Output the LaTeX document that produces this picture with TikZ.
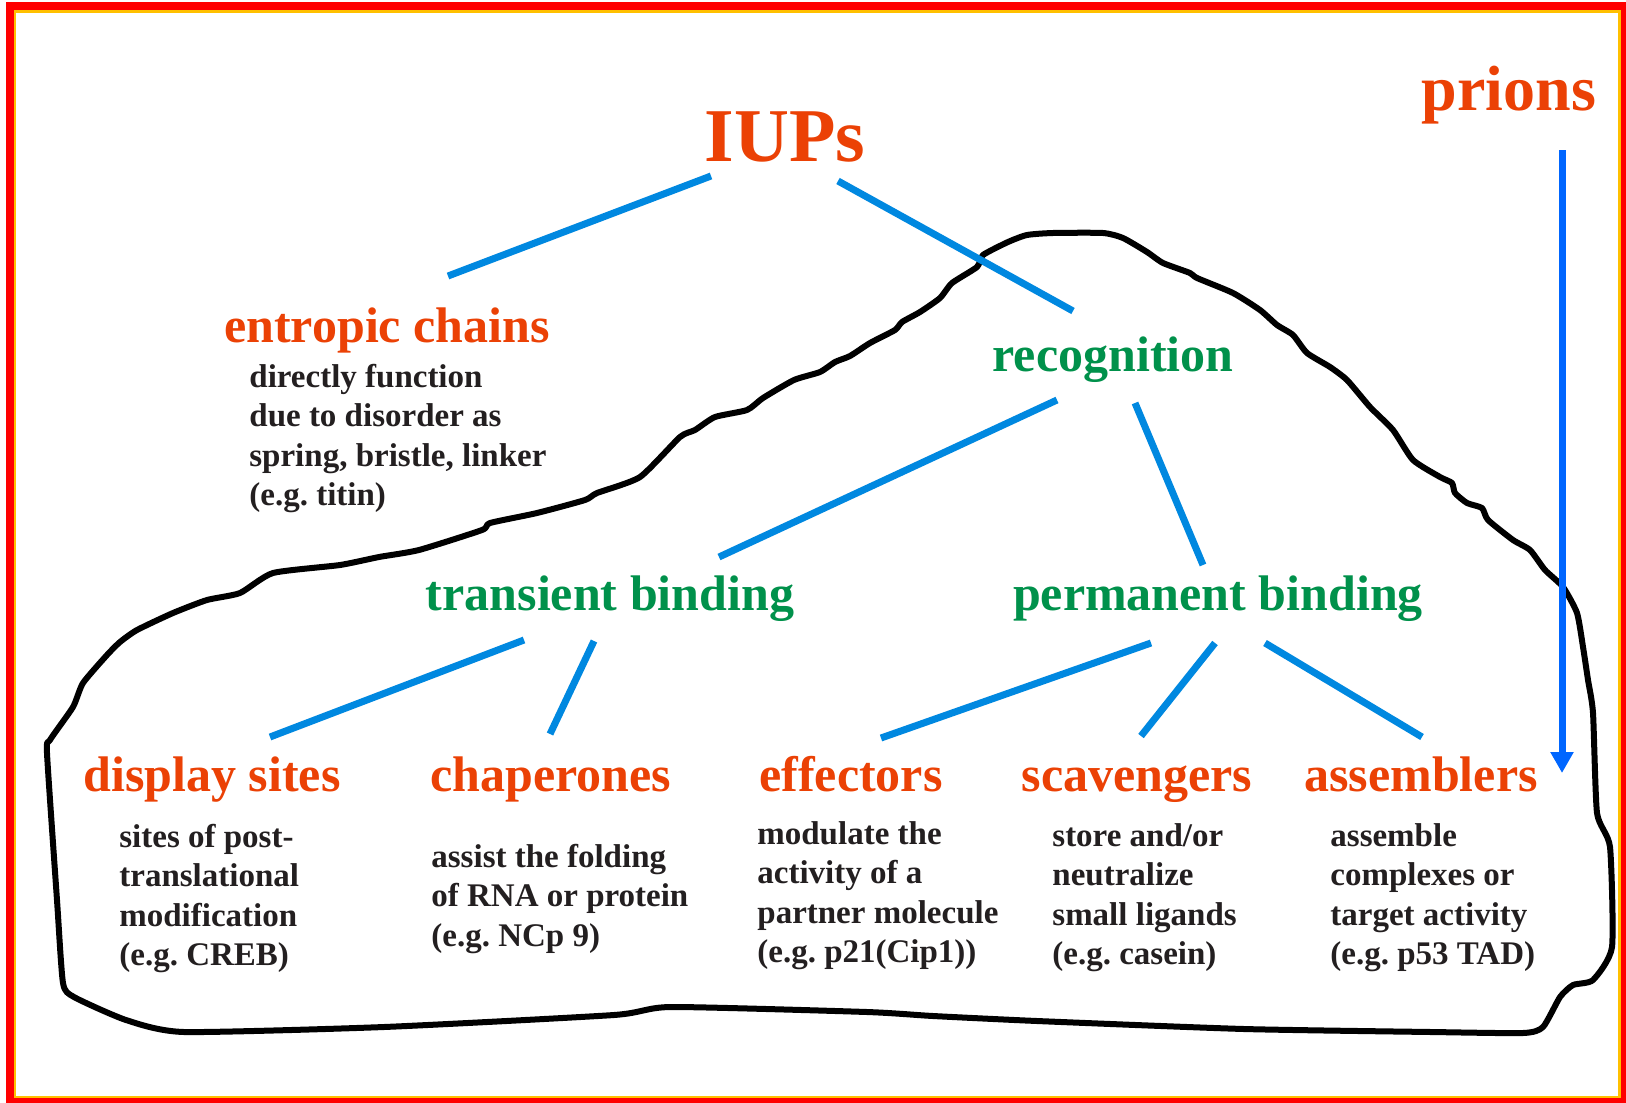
\documentclass[tikz,border=0pt]{standalone}
\usepackage{fontspec}
\setmainfont{Liberation Serif}
\usepackage{tikz}
\usetikzlibrary{calc,arrows.meta}
\definecolor{headred}{RGB}{235,65,5}
\definecolor{branchgreen}{RGB}{0,145,75}
\definecolor{linkblue}{RGB}{0,136,224}
\definecolor{prionblue}{RGB}{0,102,255}
\definecolor{desctext}{RGB}{35,31,32}
\definecolor{frameorange}{RGB}{255,192,0}

\begin{document}
\begin{tikzpicture}[x=0.5pt,y=-0.5pt,
    head/.style={font=\fontsize{25}{30}\selectfont\bfseries, text=headred, inner sep=0pt, anchor=base},
    branch/.style={head, text=branchgreen},
    desc/.style={font=\fontsize{16.5}{19.75}\selectfont\bfseries\frenchspacing, text=desctext,
                 align=left, inner sep=0pt, anchor=base west},
    link/.style={draw=linkblue, line width=3.5pt},
    blob/.style={draw=black, line width=3pt, line join=round}]
        % picture drawn in pixel units of the original, y downwards
        \useasboundingbox (0,0) rectangle (1626,1102);
        \fill[white] (0,0) rectangle (1626,1102);
        \draw[red, line width=4pt] (10,6) rectangle (1625,1102);
        \draw[frameorange, line width=1.25pt] (15,11.5) rectangle (1619.5,1097);

        % outline of the recognition region
        \draw[blob] plot[smooth cycle, tension=0.35] coordinates {
            (47,753) (50,740) (73,707) (83,683) (107,655) (120,642) (137,630)
            (173,613) (207,600) (240,593) (273,573) (340,565) (379,557) (419,550)
            (482,530) (490,523) (537,513) (585,500) (597,493) (640,477) (680,437)
            (695,430) (715,417) (747,410) (763,398) (794,380) (820,372) (835,362)
            (850,356) (870,343) (895,330) (902,322) (920,312) (940,298) (952,283)
            (977,267) (983,255) (1008,242) (1027,235) (1053,233) (1103,233) (1123,238)
            (1147,252) (1163,263) (1190,273) (1197,278) (1233,293) (1260,310) (1277,325)
            (1293,335) (1307,353) (1330,367) (1347,380) (1370,407) (1393,430) (1413,460)
            (1440,477) (1452,483) (1455,493) (1467,503) (1482,508) (1488,520) (1513,540)
            (1530,550) (1545,570) (1563,587) (1577,613) (1583,647) (1588,680) (1593,713)
            (1597,813) (1610,847) (1612,947) (1593,980) (1573,985) (1560,997) (1543,1027)
            (1523,1033) (1431,1032) (1244,1029) (1037,1021) (933,1016) (867,1012) (671,1007)
            (614,1015) (384,1027) (184,1032) (126,1020) (74,997) (63,983) (57,900)};

        % headings
        \node[head, font=\fontsize{38}{45}\selectfont\bfseries] (IUPs) at (785,161) {IUPs};
        \node[head, font=\fontsize{32}{38}\selectfont\bfseries] (prions) at (1509,111) {prions};
        \node[head] (entropic) at (387,342) {entropic chains};
        \node[branch] (recog) at (1113,371) {recognition};
        \node[branch] (transient) at (610,610) {transient binding};
        \node[branch] (permanent) at (1218,610) {permanent binding};
        \node[head] (display) at (212,791) {display sites};
        \node[head] (chaperones) at (551,791) {chaperones};
        \node[head] (effectors) at (851,791) {effectors};
        \node[head] (scavengers) at (1137,791) {scavengers};
        \node[head] (assemblers) at (1421,791) {assemblers};

        % descriptions (placed at the baseline of their last line)
        \node[desc] (entropicD) at (249,505.5) {directly function\\due to disorder as\\spring, bristle, linker\\(e.g. titin)};
        \node[desc] (displayD) at (119,965.5) {sites of post-\\translational\\modification\\(e.g. CREB)};
        \node[desc] (chaperonesD) at (431,946) {assist the folding\\of RNA or protein\\(e.g. NCp 9)};
        \node[desc] (effectorsD) at (757,962.5) {modulate the\\activity of a\\partner molecule\\(e.g. p21(Cip1))};
        \node[desc] (scavengersD) at (1052,964.5) {store and/or\\neutralize\\small ligands\\(e.g. casein)};
        \node[desc] (assemblersD) at (1330,964.5) {assemble\\complexes or\\target activity\\(e.g. p53 TAD)};

        % tree links
        \draw[link] ($(IUPs.base)+(-74,15)$) -- ($(entropic.base)+(61,-66)$);
        \draw[link] ($(IUPs.base)+(53,20)$) -- ($(recog.base)+(-40,-60)$);
        \draw[link] ($(recog.base)+(-56,29)$) -- ($(transient.base)+(109,-53)$);
        \draw[link] ($(recog.base)+(22,32)$) -- ($(permanent.base)+(-15,-45)$);
        \draw[link] ($(transient.base)+(-86,30)$) -- ($(display.base)+(58,-54)$);
        \draw[link] ($(transient.base)+(-16,31)$) -- ($(chaperones.base)+(-1,-57)$);
        \draw[link] ($(permanent.base)+(-67,33)$) -- ($(effectors.base)+(30,-53)$);
        \draw[link] ($(permanent.base)+(-3,33)$) -- ($(scavengers.base)+(4,-55)$);
        \draw[link] ($(permanent.base)+(47,33)$) -- ($(assemblers.base)+(1,-54)$);

        % prions arrow
        \coordinate (prionEnd) at (1562,773);
        \draw[prionblue, line width=3.5pt, -{Triangle[length=10.5pt,width=11pt]}]
            ($(prions.base)+(53,39)$) -- (prionEnd);
    \end{tikzpicture}
\end{document}
